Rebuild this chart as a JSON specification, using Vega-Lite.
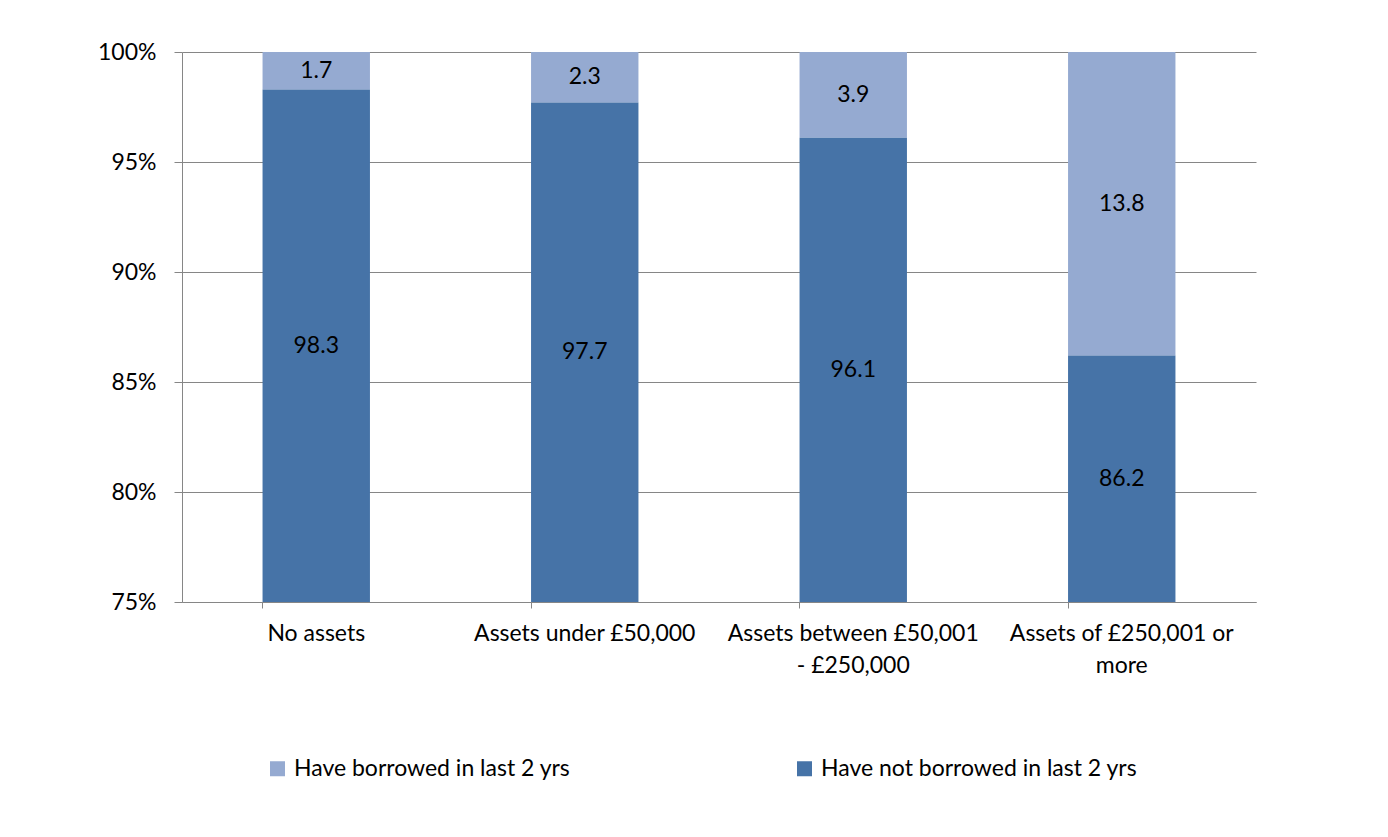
{
  "$schema": "https://vega.github.io/schema/vega-lite/v6.json",
  "width": 1074,
  "height": 550,
  "autosize": {"type": "none"},
  "padding": {"left": 182, "top": 52, "right": 132, "bottom": 235},
  "background": "white",
  "config": {
    "view": {"stroke": null},
    "font": "Lato",
    "axis": {"labelFont": "Lato", "labelFontSize": 23, "labelColor": "black", "domainColor": "#868686", "tickColor": "#868686", "gridColor": "#868686"},
    "legend": {"labelFont": "Lato", "labelFontSize": 23, "labelColor": "black", "labelLimit": 600}
  },
  "data": {
    "values": [
      {"category": "No assets", "series": "Have borrowed in last 2 yrs", "value": 1.7},
      {"category": "No assets", "series": "Have not borrowed in last 2 yrs", "value": 98.3},
      {"category": "Assets under £50,000", "series": "Have borrowed in last 2 yrs", "value": 2.3},
      {"category": "Assets under £50,000", "series": "Have not borrowed in last 2 yrs", "value": 97.7},
      {"category": "Assets between £50,001 - £250,000", "series": "Have borrowed in last 2 yrs", "value": 3.9},
      {"category": "Assets between £50,001 - £250,000", "series": "Have not borrowed in last 2 yrs", "value": 96.1},
      {"category": "Assets of £250,001 or more", "series": "Have borrowed in last 2 yrs", "value": 13.8},
      {"category": "Assets of £250,001 or more", "series": "Have not borrowed in last 2 yrs", "value": 86.2}
    ]
  },
  "transform": [
    {"stack": "value", "groupby": ["category"], "as": ["y0", "y1"], "sort": [{"field": "series", "order": "descending"}]},
    {"calculate": "(max(datum.y0, 75) + datum.y1) / 2", "as": "mid"}
  ],
  "encoding": {
    "x": {
      "field": "category", "type": "nominal", "sort": null,
      "scale": {"paddingInner": 0.6, "paddingOuter": 0.3},
      "axis": {
        "title": null, "labelAngle": 0, "bandPosition": 0, "tickSize": 6, "grid": false,
        "labelPadding": 14, "labelLineHeight": 32, "labelBaseline": "top", "labelLimit": 400,
        "labelExpr": "datum.value == 'Assets between £50,001 - £250,000' ? ['Assets between £50,001', '- £250,000'] : datum.value == 'Assets of £250,001 or more' ? ['Assets of £250,001 or', 'more'] : datum.value"
      }
    }
  },
  "layer": [
    {
      "mark": {"type": "bar", "clip": true},
      "encoding": {
        "y": {
          "field": "y1", "type": "quantitative",
          "scale": {"domain": [75, 100], "nice": false, "zero": false},
          "axis": {"title": null, "values": [75, 80, 85, 90, 95, 100], "labelExpr": "datum.value + '%'", "tickSize": 8, "labelPadding": 18, "grid": true}
        },
        "y2": {"field": "y0"},
        "color": {
          "field": "series", "type": "nominal",
          "scale": {"domain": ["Have borrowed in last 2 yrs", "Have not borrowed in last 2 yrs"], "range": ["#95AAD1", "#4673A7"]},
          "legend": {
            "title": null, "orient": "none", "direction": "horizontal", "legendX": 84, "legendY": 705,
            "symbolType": "square", "symbolSize": 225, "symbolStrokeWidth": 0, "columnPadding": 222, "labelOffset": 5
          }
        }
      }
    },
    {
      "mark": {"type": "text", "fontSize": 23, "font": "Lato", "color": "black"},
      "encoding": {
        "y": {"field": "mid", "type": "quantitative"},
        "text": {"field": "value", "type": "quantitative", "format": ".1f"}
      }
    }
  ]
}
